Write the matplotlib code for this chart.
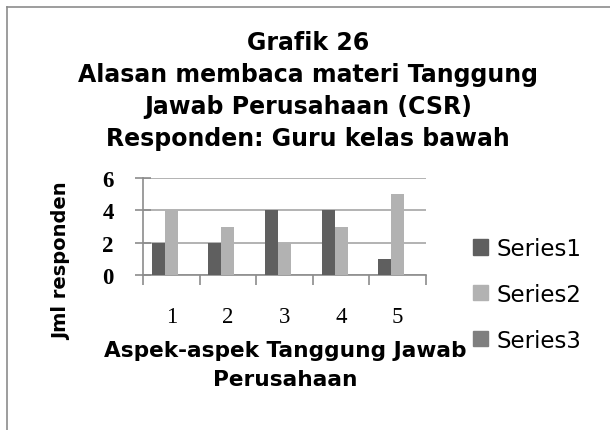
import matplotlib
matplotlib.use("Agg")
import matplotlib.pyplot as plt
import numpy as np
from matplotlib.lines import Line2D
from matplotlib.patches import Patch

categories = ["1", "2", "3", "4", "5"]
series1 = [2, 2, 4, 4, 1]
series2 = [4, 3, 2, 3, 5]
series3 = [0, 0, 0, 0, 0]
series_names = ["Series1", "Series2", "Series3"]
colors = ["#5f5f5f", "#b2b2b2", "#7f7f7f"]
title_lines = [
    "Grafik 26",
    "Alasan membaca materi Tanggung",
    "Jawab Perusahaan (CSR)",
    "Responden: Guru kelas bawah",
]

W, H = 610, 431
fig = plt.figure(figsize=(W / 100, H / 100), dpi=100)

# chart border (only left and top are inside the crop)
fig.add_artist(Line2D([7 / W, 7 / W], [0, 1 - 8 / H], color="#8c8c8c", lw=1.2))
fig.add_artist(Line2D([7 / W, 1], [1 - 8 / H, 1 - 8 / H], color="#8c8c8c", lw=1.2))

ax = fig.add_axes([143 / W, 155 / H, 283 / W, 97 / H])

x = np.arange(len(categories))
bw = 0.23
for i, vals in enumerate([series1, series2, series3]):
    ax.bar(x + (i - 1) * bw, vals, width=bw, color=colors[i], label=series_names[i], zorder=3)

ax.set_xlim(-0.5, len(categories) - 0.5)
ax.set_ylim(0, 6)
ax.set_yticks([0, 2, 4, 6])
ax.set_xticks(np.arange(len(categories) + 1) - 0.5)
ax.set_xticklabels([])
ax.set_xticks(x, minor=True)
ax.set_xticklabels(categories, minor=True)
ax.tick_params(axis="x", which="minor", length=0, pad=22, labelsize=16.5)
ax.tick_params(axis="x", which="major", length=7, color="#8c8c8c", width=1.2)
ax.tick_params(axis="y", direction="inout", length=12, color="#8c8c8c", width=1.2,
               pad=15, labelsize=16.5)
for lab in ax.get_xticklabels(minor=True):
    lab.set_fontfamily("Liberation Serif")
for lab in ax.get_yticklabels():
    lab.set_fontfamily("Liberation Serif")
    lab.set_fontweight("bold")
ax.grid(axis="y", color="#a6a6a6", lw=1.2, zorder=0)
for side in ["top", "right"]:
    ax.spines[side].set_visible(False)
for side in ["left", "bottom"]:
    ax.spines[side].set_color("#8c8c8c")
    ax.spines[side].set_linewidth(1.2)

fig.text(62 / W, 1 - 261 / H, "Jml responden", rotation=90, ha="center", va="center",
         fontsize=14, fontweight="bold", family="DejaVu Sans")

for k, line in enumerate(title_lines):
    fig.text(308 / W, 1 - (43 + 32 * k) / H, line, ha="center", va="center",
             fontsize=17, fontweight="bold", family="DejaVu Sans")

fig.text(285 / W, 1 - 351 / H, "Aspek-aspek Tanggung Jawab", ha="center", va="center",
         fontsize=15.6, fontweight="bold", family="DejaVu Sans")
fig.text(285 / W, 1 - 380 / H, "Perusahaan", ha="center", va="center",
         fontsize=15.6, fontweight="bold", family="DejaVu Sans")

handles = [Patch(color=c) for c in colors]
fig.legend(handles, series_names, loc="upper left", bbox_to_anchor=(473 / W, 1 - 238 / H),
           frameon=False, borderpad=0, borderaxespad=0, handlelength=0.64,
           handleheight=0.64, handletextpad=0.38, labelspacing=1.0,
           prop={"family": "DejaVu Sans", "size": 16.5})

fig.savefig("out.png", dpi=100)
